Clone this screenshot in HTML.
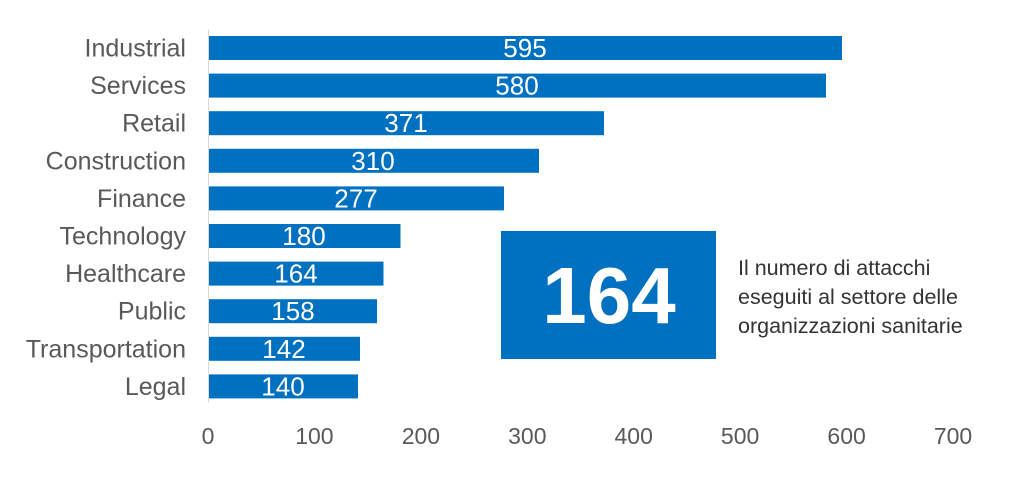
<!DOCTYPE html>
<html><head><meta charset="utf-8"><style>body{margin:0;background:#fff}</style></head><body>
<svg width="1024" height="496" xmlns="http://www.w3.org/2000/svg" font-family="Liberation Sans, sans-serif">
<rect width="1024" height="496" fill="#fff"/>
<line x1="208.5" y1="30" x2="208.5" y2="402" stroke="#d9d9d9" stroke-width="1"/>
<g fill="#0070c0">
<rect x="209" y="36" width="633" height="24"/>
<rect x="209" y="73.6" width="617" height="24"/>
<rect x="209" y="111.2" width="395" height="24"/>
<rect x="209" y="148.8" width="330" height="24"/>
<rect x="209" y="186.4" width="295" height="24"/>
<rect x="209" y="224" width="191.5" height="24"/>
<rect x="209" y="261.6" width="174.5" height="24"/>
<rect x="209" y="299.2" width="168" height="24"/>
<rect x="209" y="336.8" width="151" height="24"/>
<rect x="209" y="374.4" width="149" height="24"/>
</g>
<g fill="#fff" font-size="26" text-anchor="middle">
<text x="525" y="57">595</text>
<text x="517" y="94.6">580</text>
<text x="406" y="132.2">371</text>
<text x="373" y="169.8">310</text>
<text x="356" y="207.4">277</text>
<text x="304" y="245">180</text>
<text x="296" y="282.6">164</text>
<text x="293" y="320.2">158</text>
<text x="284" y="357.8">142</text>
<text x="283" y="395.4">140</text>
</g>
<g fill="#595959" font-size="25" text-anchor="end">
<text x="186" y="56.5">Industrial</text>
<text x="186" y="94.1">Services</text>
<text x="186" y="131.7">Retail</text>
<text x="186" y="169.3">Construction</text>
<text x="186" y="206.9">Finance</text>
<text x="186" y="244.5">Technology</text>
<text x="186" y="282.1">Healthcare</text>
<text x="186" y="319.7">Public</text>
<text x="186" y="357.3">Transportation</text>
<text x="186" y="394.9">Legal</text>
</g>
<g fill="#595959" font-size="23" text-anchor="middle">
<text x="208" y="444">0</text>
<text x="314.4" y="444">100</text>
<text x="420.9" y="444">200</text>
<text x="527.3" y="444">300</text>
<text x="633.7" y="444">400</text>
<text x="740.1" y="444">500</text>
<text x="846.6" y="444">600</text>
<text x="953" y="444">700</text>
</g>
<rect x="501" y="231" width="215" height="128" fill="#0070c0"/>
<text x="609" y="323" fill="#fff" font-size="80" font-weight="bold" text-anchor="middle">164</text>
<g fill="#333" font-size="21.5">
<text x="738" y="275">Il numero di attacchi</text>
<text x="738" y="304">eseguiti al settore delle</text>
<text x="738" y="333">organizzazioni sanitarie</text>
</g>
</svg>
</body></html>
